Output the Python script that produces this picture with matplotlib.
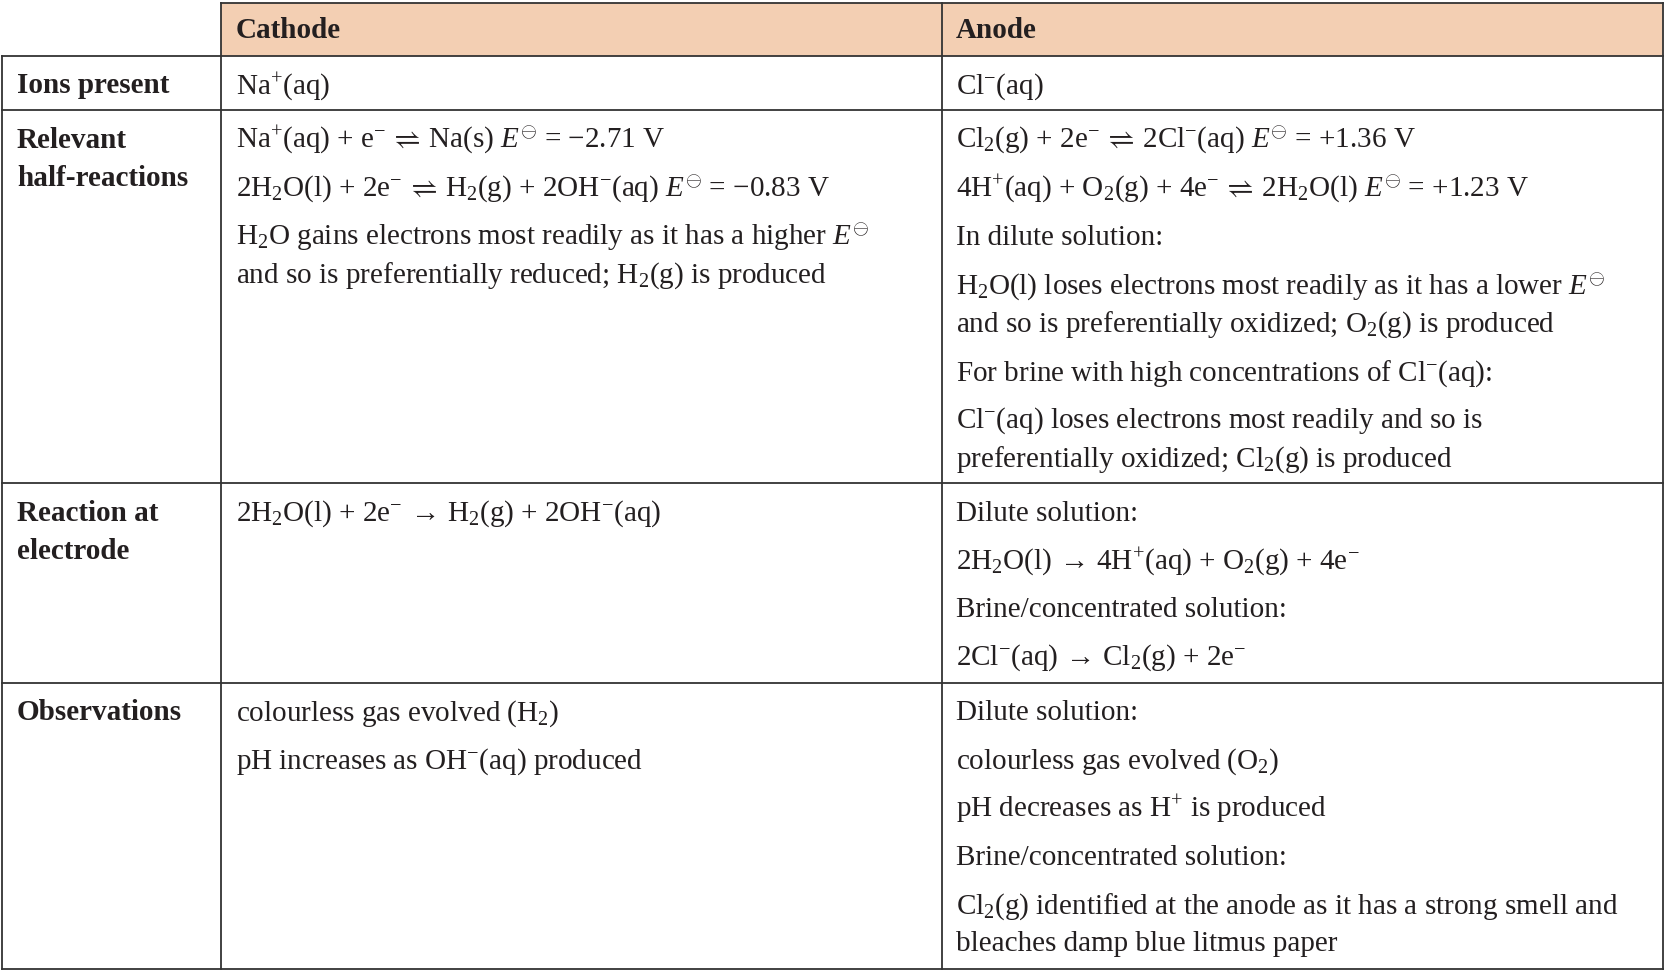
import matplotlib
matplotlib.use("Agg")
import matplotlib.pyplot as plt

plt.rcParams['mathtext.fontset'] = 'custom'
plt.rcParams['mathtext.rm'] = 'Liberation Serif'
plt.rcParams['mathtext.it'] = 'Liberation Serif:italic'
plt.rcParams['mathtext.bf'] = 'Liberation Serif:bold'
plt.rcParams['font.family'] = ['Liberation Serif', 'DejaVu Serif']

E = r'$E^{\ominus}$'
EQ = r'$\!\rightleftharpoons\!$'
AR = r'$\!\rightarrow\!$'
headers = ["Cathode", "Anode"]
row_labels = [["Ions present"], ["Relevant", "half-reactions"], ["Reaction at", "electrode"], ["Observations"]]
row_label_y = [[79], [130, 166], [481, 517], [669]]

cathode = [
    [(79, r"Na$^{+}$(aq)")],
    [(130, r"Na$^{+}$(aq) + e$^{-}$ " + EQ + " Na(s) " + E + " = −2.71 V"),
     (176, r"2H$_2$O(l) + 2e$^{-}$ " + EQ + r" H$_2$(g) + 2OH$^{-}$(aq) " + E + " = −0.83 V"),
     (222, r"H$_2$O gains electrons most readily as it has a higher " + E),
     (257, r"and so is preferentially reduced; H$_2$(g) is produced")],
    [(481, r"2H$_2$O(l) + 2e$^{-}$ " + AR + r" H$_2$(g) + 2OH$^{-}$(aq)")],
    [(669, r"colourless gas evolved (H$_2$)"),
     (715, r"pH increases as OH$^{-}$(aq) produced")],
]
anode = [
    [(79, r"Cl$^{-}$(aq)")],
    [(130, r"Cl$_2$(g) + 2e$^{-}$ " + EQ + r" 2Cl$^{-}$(aq) " + E + " = +1.36 V"),
     (176, r"4H$^{+}$(aq) + O$_2$(g) + 4e$^{-}$ " + EQ + r" 2H$_2$O(l) " + E + " = +1.23 V"),
     (222, "In dilute solution:"),
     (268, r"H$_2$O(l) loses electrons most readily as it has a lower " + E),
     (303, r"and so is preferentially oxidized; O$_2$(g) is produced"),
     (349, r"For brine with high concentrations of Cl$^{-}$(aq):"),
     (394, r"Cl$^{-}$(aq) loses electrons most readily and so is"),
     (430, r"preferentially oxidized; Cl$_2$(g) is produced")],
    [(481, "Dilute solution:"),
     (527, r"2H$_2$O(l) " + AR + r" 4H$^{+}$(aq) + O$_2$(g) + 4e$^{-}$"),
     (572, "Brine/concentrated solution:"),
     (617, r"2Cl$^{-}$(aq) " + AR + r" Cl$_2$(g) + 2e$^{-}$")],
    [(669, "Dilute solution:"),
     (715, r"colourless gas evolved (O$_2$)"),
     (760, r"pH decreases as H$^{+}$ is produced"),
     (805, "Brine/concentrated solution:"),
     (851, r"Cl$_2$(g) identified at the anode as it has a strong smell and"),
     (886, "bleaches damp blue litmus paper")],
]

W, H = 1568, 915
fig = plt.figure(figsize=(16.66, 9.72), dpi=100)
ax = fig.add_axes([0, 0, 1, 1])
ax.set_xlim(0, W)
ax.set_ylim(H, 0)
ax.axis('off')

xs = [2, 208, 887, 1565]
ys = [53, 104, 455, 643, 912]
top = 3
lc = '#333333'
lw = 1.3
ax.add_patch(plt.Rectangle((208, top), 1565 - 208, 53 - top, facecolor='#F3CFB3', edgecolor='none'))
ax.plot([208, 1565], [top, top], color=lc, lw=lw)
for y in ys:
    ax.plot([2, 1565], [y, y], color=lc, lw=lw)
ax.plot([2, 2], [53, 912], color=lc, lw=lw)
for x in xs[1:]:
    ax.plot([x, x], [top, 912], color=lc, lw=lw)

fs = 21
fsb = 21
off = 9
tc = '#231f20'
ax.text(222, 27 + off, headers[0], fontsize=fsb, fontweight='bold', va='baseline', color=tc)
ax.text(900, 27 + off, headers[1], fontsize=fsb, fontweight='bold', va='baseline', color=tc)
for labels, yy in zip(row_labels, row_label_y):
    for t, y in zip(labels, yy):
        ax.text(16, y + off, t, fontsize=fsb, fontweight='bold', va='baseline', color=tc)
for x0, col in ((222, cathode), (900, anode)):
    for cell in col:
        for y, t in cell:
            ax.text(x0, y + off, t, fontsize=fs, va='baseline', color=tc)

fig.savefig('out.png', dpi=100, facecolor='white')
